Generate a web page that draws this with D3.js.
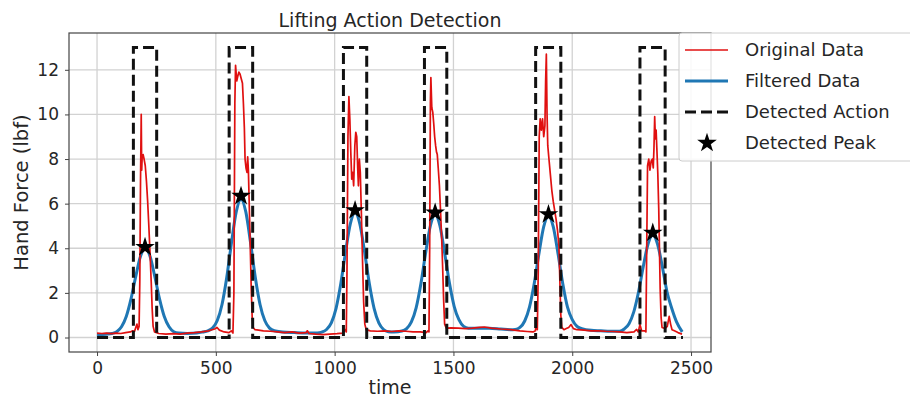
<!DOCTYPE html>
<html>
<head>
<meta charset="utf-8">
<script src="https://cdn.jsdelivr.net/npm/d3@7"></script>
<style>
  body { margin: 0; background: #fff; }
  text { font-family: "DejaVu Sans", sans-serif; fill: #262626; }
</style>
</head>
<body>
<div id="chart"></div>
<script>
var svgWidth = 910;
var svgHeight = 399;

var margin = { top: 33, right: 199, bottom: 47, left: 69 };
var width = svgWidth - margin.left - margin.right;
var height = svgHeight - margin.top - margin.bottom;

// data: [time, force]
var originalData = [
  [0,0.2],[20,0.18],[40,0.2],[60,0.17],[80,0.2],[100,0.18],[120,0.22],[140,0.25],[150,0.3],[158,0.28],[163,0.45],[168,0.6],[172,0.35],[177,0.5],
  [180,2.5],[183,7.0],[186,10.0],[188,7.5],[190,8.1],[194,8.2],[198,8.0],[203,7.7],[208,7.0],[213,6.1],[218,5.0],[223,3.8],[228,2.5],[232,1.3],[236,0.5],[242,0.25],
  [260,0.18],[290,0.15],[320,0.17],[350,0.15],[380,0.2],[410,0.22],[440,0.25],[470,0.3],[495,0.38],[505,0.45],[515,0.33],[535,0.25],[555,0.22],[565,0.3],[572,0.2],
  [576,2.0],[580,10.5],[583,12.2],[588,11.5],[592,11.7],[597,11.9],[602,11.8],[607,11.6],[612,11.4],[616,10.5],[620,9.4],[623,8.0],[627,7.6],[631,7.4],[634,8.1],[637,7.5],[641,5.8],[645,4.0],[649,2.2],[653,0.9],[657,0.45],[665,0.35],
  [680,0.33],[700,0.3],[730,0.28],[760,0.25],[790,0.22],[820,0.25],[850,0.2],[880,0.22],[885,0.3],[892,0.18],[920,0.15],[950,0.13],[980,0.15],[1010,0.17],[1035,0.2],[1045,0.35],[1049,0.25],
  [1052,3.0],[1056,9.0],[1060,10.8],[1064,9.8],[1068,8.3],[1072,7.1],[1076,7.4],[1080,6.8],[1085,8.6],[1089,9.2],[1093,9.0],[1097,7.6],[1100,6.8],[1104,8.0],[1108,7.4],[1112,5.8],[1117,3.6],[1122,1.6],[1127,0.6],[1133,0.35],
  [1150,0.3],[1180,0.28],[1210,0.3],[1240,0.27],[1270,0.3],[1300,0.28],[1330,0.25],[1360,0.25],[1385,0.22],[1393,0.3],[1397,0.25],
  [1400,4.0],[1403,10.5],[1405,11.65],[1409,10.3],[1413,10.1],[1417,9.6],[1421,9.0],[1425,8.6],[1429,8.3],[1432,8.2],[1436,7.6],[1441,6.8],[1446,5.6],[1451,4.3],[1455,3.0],[1459,1.6],[1463,0.6],[1470,0.42],
  [1490,0.43],[1520,0.42],[1550,0.4],[1580,0.42],[1610,0.45],[1630,0.47],[1660,0.42],[1700,0.38],[1740,0.35],[1780,0.3],[1810,0.27],[1835,0.25],[1845,0.3],[1849,0.7],[1853,0.35],
  [1857,3.0],[1861,9.0],[1865,9.8],[1870,9.3],[1875,9.8],[1880,9.0],[1885,9.5],[1888,11.5],[1891,12.7],[1894,10.0],[1897,8.6],[1902,8.0],[1908,7.3],[1914,6.6],[1920,6.1],[1926,5.7],[1932,5.3],[1938,4.8],[1944,4.1],[1948,2.5],[1952,1.0],[1956,0.45],[1965,0.35],
  [1975,0.4],[1985,0.45],[1995,0.58],[2005,0.4],[2020,0.35],[2050,0.33],[2080,0.3],[2110,0.3],[2140,0.28],[2170,0.27],[2200,0.25],[2230,0.22],[2260,0.25],[2271,0.36],[2278,0.25],[2285,0.58],[2292,0.3],[2305,0.3],[2310,0.25],
  [2313,3.5],[2317,7.7],[2322,8.0],[2327,7.5],[2332,7.9],[2337,8.0],[2341,7.6],[2344,8.5],[2347,9.9],[2350,8.9],[2353,9.3],[2356,8.5],[2360,7.4],[2364,5.8],[2367,4.0],[2370,2.2],[2374,0.9],[2378,0.45],
  [2390,0.4],[2400,0.5],[2408,0.95],[2414,0.6],[2420,0.35],[2430,0.3],[2445,0.22],[2462,0.15]
];

var filteredData = [
  [0,0.13],[40,0.15],[63,0.18],[83,0.26],[103,0.48],[123,0.94],[143,1.73],[163,2.74],[183,3.64],[203,4.0],[223,3.64],[243,2.74],[263,1.73],[283,0.94],[303,0.48],[323,0.26],[343,0.2],
  [380,0.18],[420,0.2],[446,0.25],[466,0.3],[486,0.42],[506,0.76],[526,1.48],[546,2.7],[566,4.26],[586,5.64],[606,6.2],[626,5.64],[646,4.26],[666,2.7],[686,1.48],[706,0.76],[726,0.42],[746,0.3],
  [780,0.25],[830,0.22],[880,0.2],[926,0.2],[946,0.24],[966,0.36],[986,0.66],[1006,1.31],[1026,2.42],[1046,3.84],[1066,5.09],[1086,5.6],[1106,5.09],[1126,3.84],[1146,2.42],[1166,1.31],[1186,0.66],[1206,0.36],[1226,0.26],
  [1250,0.25],[1283,0.29],[1303,0.4],[1323,0.7],[1343,1.33],[1363,2.41],[1383,3.79],[1403,5.01],[1423,5.5],[1443,5.01],[1463,3.79],[1483,2.45],[1503,1.4],[1523,0.8],[1543,0.5],[1563,0.42],
  [1600,0.42],[1650,0.42],[1700,0.38],[1740,0.35],[1760,0.36],[1780,0.45],[1800,0.74],[1820,1.36],[1840,2.42],[1860,3.77],[1880,4.97],[1900,5.45],[1920,4.97],[1940,3.77],[1960,2.42],[1980,1.36],[2000,0.8],[2020,0.5],[2040,0.4],
  [2080,0.32],[2120,0.3],[2160,0.28],[2199,0.28],[2219,0.38],[2239,0.62],[2259,1.15],[2279,2.04],[2299,3.18],[2319,4.19],[2339,4.6],[2359,4.19],[2379,3.18],[2399,2.04],[2419,1.3],[2439,0.7],[2463,0.25]
];

var actionStart = [153, 556, 1037, 1378, 1846, 2285];
var actionEnd = [251, 655, 1135, 1472, 1952, 2391];
var actionLevel = 13;
var timeEnd = 2466;

var peakTimes = [202, 606, 1086, 1423, 1900, 2339];
var peakForces = [4.05, 6.34, 5.70, 5.59, 5.52, 4.69];

var xTicks = [0, 500, 1000, 1500, 2000, 2500];
var yTicks = [0, 2, 4, 6, 8, 10, 12];

var legendLabels = ["Original Data", "Filtered Data", "Detected Action", "Detected Peak"];

// square wave for the detected actions
var actionData = [[0, 0]];
actionStart.forEach(function(s, i) {
  actionData.push([s, 0], [s, actionLevel], [actionEnd[i], actionLevel], [actionEnd[i], 0]);
});
actionData.push([timeEnd, 0]);

var peaks = peakTimes.map(function(t, i) { return [t, peakForces[i]]; });

var svg = d3.select("#chart")
  .append("svg")
  .attr("width", svgWidth)
  .attr("height", svgHeight);

var chartGroup = svg.append("g")
  .attr("transform", `translate(${margin.left}, ${margin.top})`);

var xScale = d3.scaleLinear()
  .domain([-118, 2584])
  .range([0, width]);

var yScale = d3.scaleLinear()
  .domain([-0.65, 13.65])
  .range([height, 0]);

// grid
chartGroup.append("g")
  .selectAll("line.vgrid")
  .data(xTicks)
  .enter()
  .append("line")
  .attr("x1", d => xScale(d))
  .attr("x2", d => xScale(d))
  .attr("y1", 0)
  .attr("y2", height)
  .attr("stroke", "#d2d2d2")
  .attr("stroke-width", 1.3);

chartGroup.append("g")
  .selectAll("line.hgrid")
  .data(yTicks)
  .enter()
  .append("line")
  .attr("x1", 0)
  .attr("x2", width)
  .attr("y1", d => yScale(d))
  .attr("y2", d => yScale(d))
  .attr("stroke", "#d2d2d2")
  .attr("stroke-width", 1.3);

// axes
var bottomAxis = d3.axisBottom(xScale).tickValues(xTicks).tickFormat(d3.format("d")).tickSize(4).tickPadding(6);
var leftAxis = d3.axisLeft(yScale).tickValues(yTicks).tickFormat(d3.format("d")).tickSize(4).tickPadding(6);

var xAxisG = chartGroup.append("g")
  .attr("transform", `translate(0, ${height})`)
  .call(bottomAxis);
var yAxisG = chartGroup.append("g")
  .call(leftAxis);

[xAxisG, yAxisG].forEach(function(g) {
  g.select(".domain").remove();
  g.selectAll(".tick line").attr("stroke", "#444");
  g.selectAll(".tick text")
    .attr("font-size", "17px")
    .attr("font-family", "DejaVu Sans")
    .attr("fill", "#262626");
});

// lines
var line = d3.line()
  .x(d => xScale(d[0]))
  .y(d => yScale(d[1]));

chartGroup.append("path")
  .datum(filteredData)
  .attr("fill", "none")
  .attr("stroke", "#1f77b4")
  .attr("stroke-width", 3)
  .attr("d", line.curve(d3.curveMonotoneX));

line.curve(d3.curveLinear);

chartGroup.append("path")
  .datum(originalData)
  .attr("fill", "none")
  .attr("stroke", "#e01010")
  .attr("stroke-width", 1.7)
  .attr("stroke-linejoin", "round")
  .attr("d", line);

chartGroup.append("path")
  .datum(actionData)
  .attr("fill", "none")
  .attr("stroke", "#111")
  .attr("stroke-width", 3)
  .attr("stroke-dasharray", "11,5")
  .attr("d", line);

var star = d3.symbol().type(d3.symbolStar).size(120);

chartGroup.selectAll(".peak")
  .data(peaks)
  .enter()
  .append("path")
  .attr("class", "peak")
  .attr("transform", d => `translate(${xScale(d[0])}, ${yScale(d[1])})`)
  .attr("d", star)
  .attr("fill", "#000");

// frame
chartGroup.append("rect")
  .attr("width", width)
  .attr("height", height)
  .attr("fill", "none")
  .attr("stroke", "#444")
  .attr("stroke-width", 1.2);

// title and labels
svg.append("text")
  .attr("x", margin.left + width / 2)
  .attr("y", 27)
  .attr("text-anchor", "middle")
  .attr("font-size", "19px")
  .text("Lifting Action Detection");

svg.append("text")
  .attr("x", margin.left + width / 2)
  .attr("y", 394)
  .attr("text-anchor", "middle")
  .attr("font-size", "19px")
  .text("time");

svg.append("text")
  .attr("transform", `translate(28, ${margin.top + height / 2}) rotate(-90)`)
  .attr("text-anchor", "middle")
  .attr("font-size", "19.5px")
  .text("Hand Force (lbf)");

// legend, sitting past the right edge
var legend = svg.append("g")
  .attr("transform", "translate(679, 33)");

legend.append("rect")
  .attr("width", 260)
  .attr("height", 128)
  .attr("rx", 3)
  .attr("fill", "#fff")
  .attr("fill-opacity", 0.85)
  .attr("stroke", "#cccccc");

var legendRows = legend.selectAll(".row")
  .data(legendLabels)
  .enter()
  .append("g")
  .attr("transform", (d, i) => `translate(0, ${17 + i * 31})`);

legendRows.append("text")
  .attr("x", 66)
  .attr("dy", "0.35em")
  .attr("font-size", "18px")
  .text(d => d);

legend.append("line")
  .attr("x1", 6).attr("x2", 49).attr("y1", 17).attr("y2", 17)
  .attr("stroke", "#e01010").attr("stroke-width", 1.7);
legend.append("line")
  .attr("x1", 6).attr("x2", 49).attr("y1", 48).attr("y2", 48)
  .attr("stroke", "#1f77b4").attr("stroke-width", 3);
legend.append("line")
  .attr("x1", 6).attr("x2", 49).attr("y1", 79).attr("y2", 79)
  .attr("stroke", "#111").attr("stroke-width", 3).attr("stroke-dasharray", "11,5");
legend.append("path")
  .attr("transform", "translate(28, 110)")
  .attr("d", star)
  .attr("fill", "#000");
</script>
</body>
</html>
